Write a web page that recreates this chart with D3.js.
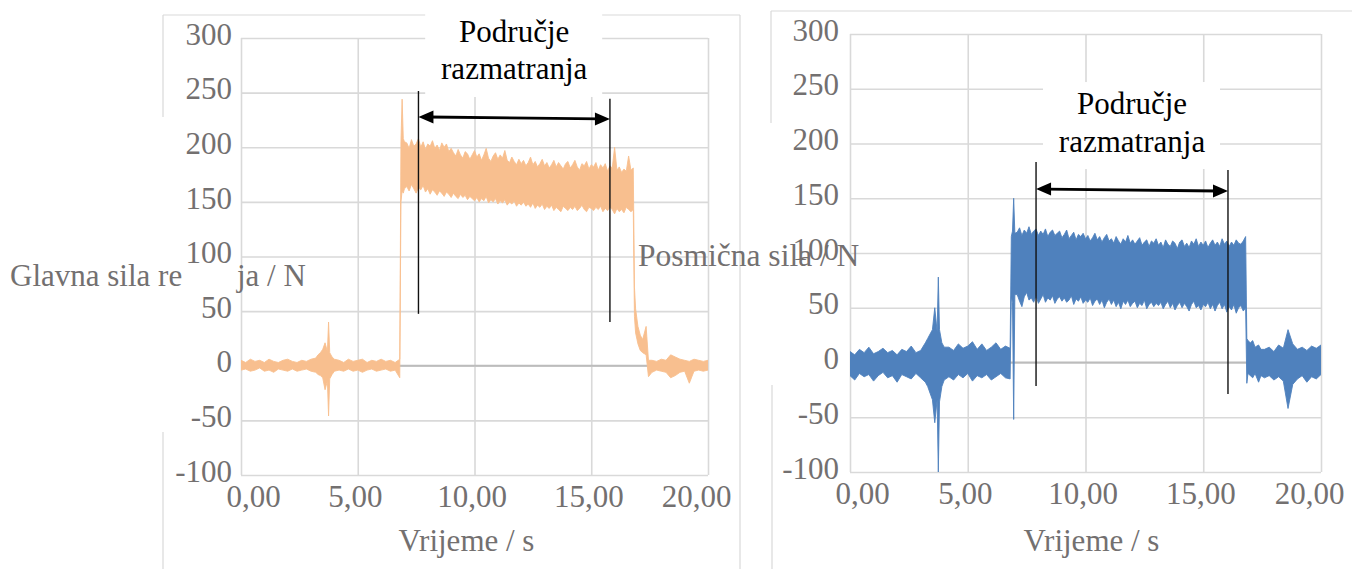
<!DOCTYPE html>
<html>
<head>
<meta charset="utf-8">
<script src="https://cdn.jsdelivr.net/npm/d3@7"></script>
<style>
body { margin: 0; background: #fff; }
text { font-family: "Liberation Serif", "Times New Roman", serif; }
</style>
</head>
<body>
<script>
var width = 1352
var height = 569

// sample instants, s (denser where the signal is cut)
var time = [
  0, 0.2, 0.4, 0.6, 0.8, 1, 1.2, 1.4, 1.6, 1.8, 2, 2.2, 2.4, 2.6, 2.8, 3,
  3.2, 3.3, 3.4, 3.5, 3.6, 3.7, 3.75, 3.8, 3.9, 4,
  4.2, 4.4, 4.6, 4.8, 5, 5.2, 5.4, 5.6, 5.8, 6, 6.2, 6.4, 6.6, 6.8,
  6.85, 6.9, 6.95, 7,
  7.1, 7.2, 7.3, 7.4, 7.5, 7.6, 7.7, 7.8, 7.9, 8,
  8.1, 8.2, 8.3, 8.4, 8.5, 8.6, 8.7, 8.8, 8.9, 9,
  9.1, 9.2, 9.3, 9.4, 9.5, 9.6, 9.7, 9.8, 9.9, 10,
  10.1, 10.2, 10.3, 10.4, 10.5, 10.6, 10.7, 10.8, 10.9, 11,
  11.1, 11.2, 11.3, 11.4, 11.5, 11.6, 11.7, 11.8, 11.9, 12,
  12.1, 12.2, 12.3, 12.4, 12.5, 12.6, 12.7, 12.8, 12.9, 13,
  13.1, 13.2, 13.3, 13.4, 13.5, 13.6, 13.7, 13.8, 13.9, 14,
  14.1, 14.2, 14.3, 14.4, 14.5, 14.6, 14.7, 14.8, 14.9, 15,
  15.1, 15.2, 15.3, 15.4, 15.5, 15.6, 15.7, 15.8, 15.9, 16,
  16.1, 16.2, 16.3, 16.4, 16.5, 16.6, 16.7, 16.8,
  16.85, 16.9, 17, 17.1, 17.2, 17.35, 17.45,
  17.6, 17.8, 18, 18.2, 18.4, 18.6, 18.8, 19, 19.2, 19.4, 19.6, 19.8, 20
]

// Glavna sila rezanja, upper / lower edge of the noisy signal, N
var glavnaHi = [
  5, 3, 6, 4, 5, 3, 6, 4, 3, 5, 6, 4, 3, 5, 4, 6,
  7, 10, 12, 15, 21, 13, 40, 12, 8, 6,
  5, 3, 6, 4, 5, 6, 3, 5, 4, 6, 4, 5, 3, 6,
  205, 244, 208, 205,
  204, 199, 207, 201, 203, 208, 200, 205, 198, 203,
  201, 206, 199, 202, 197, 204, 200, 203, 196, 199,
  195, 192, 198, 193, 190, 196, 194, 189, 193, 197,
  191, 194, 188, 193, 199, 190, 187, 192, 195, 189,
  193, 190, 197, 188, 186, 191, 187, 184, 189, 185,
  188, 183, 186, 191, 184, 187, 182, 185, 189, 183,
  186, 181, 184, 188, 182, 186, 183, 180, 185, 187,
  181, 184, 188, 182, 179, 185, 183, 187, 180, 184,
  182, 186, 179, 184, 181, 185, 178, 183, 181, 200,
  179, 182, 177, 180, 178, 192, 179, 181,
  72, 52, 36, 28, 24, 36, 5,
  5, 4, 6, 5, 10, 8, 6, 5, 4, 6, 5, 4, 5
]
var glavnaLo = [
  -4, -3, -5, -4, -2, -5, -4, -6, -3, -4, -5, -3, -5, -4, -3, -5,
  -6, -8, -9, -11, -22, -14, -46, -12, -8, -5,
  -4, -5, -3, -5, -4, -6, -4, -3, -5, -4, -3, -5, -4, -11,
  150, 160, 158, 162,
  164, 160, 166, 162, 158, 163, 161, 165, 159, 162,
  157, 161, 159, 156, 160, 158, 155, 159, 157, 154,
  158, 155, 153, 157, 154, 156, 152, 155, 153, 151,
  154, 150, 153, 151, 155, 149, 152, 150, 153, 148,
  151, 149, 152, 147, 150, 148, 151, 146, 149, 147,
  150, 146, 148, 145, 149, 144, 147, 145, 148, 143,
  146, 144, 147, 142, 145, 143, 141, 146, 144, 142,
  145, 143, 146, 142, 144, 147, 143, 141, 145, 144,
  142, 145, 143, 146, 141, 144, 142, 145, 143, 139,
  144, 141, 143, 140, 145, 143, 141, 143,
  45, 30, 20, 14, 12, 10, -10,
  -6, -4, -5, -6, -11, -9, -6, -5, -16, -5, -4, -5, -4
]

// Posmična sila, upper / lower edge, N
var posmicnaHi = [
  10, 7, 12, 9, 14, 8, 10, 13, 9, 11, 7, 12, 10, 15, 9, 11,
  18, 22, 26, 30, 50, 28, 78, 30, 18, 14,
  14, 11, 17, 13, 15, 19, 12, 17, 11, 14, 18, 12, 15, 13,
  115, 120, 150, 118,
  119, 123, 116, 121, 118, 124, 117, 120, 122, 116,
  120, 117, 122, 115, 119, 121, 116, 118, 120, 114,
  117, 121, 113, 116, 119, 112, 117, 115, 118, 113,
  116, 111, 114, 118, 112, 115, 110, 114, 117, 111,
  113, 109, 115, 111, 108, 113, 110, 116, 109, 112,
  108, 111, 114, 107, 110, 112, 106, 111, 109, 113,
  107, 110, 105, 112, 108, 106, 111, 109, 104, 110,
  112, 106, 109, 105, 111, 108, 113, 106, 110, 107,
  111, 105, 109, 112, 107, 110, 106, 113, 108, 111,
  106, 110, 107, 112, 109, 108, 111, 115,
  22, 20, 18, 20, 14, 16, 12,
  12, 14, 10, 16, 13, 30, 17, 12, 14, 11, 15, 13, 16
]
var posmicnaLo = [
  -12, -16, -10, -13, -11, -17, -12, -9, -14, -12, -18, -11, -13, -15, -10, -14,
  -18, -22, -28, -34, -55, -34, -100, -36, -22, -16,
  -13, -16, -11, -14, -10, -17, -12, -14, -11, -16, -13, -10, -14, -15,
  60, 55, -52, 62,
  62, 56, 51, 60, 64, 57, 59, 55, 61, 54,
  58, 62, 55, 59, 57, 61, 54, 58, 60, 56,
  59, 55, 57, 61, 53, 58, 56, 60, 54, 57,
  55, 59, 52, 56, 58, 53, 57, 50, 55, 58,
  53, 57, 51, 55, 49, 56, 53, 57, 51, 54,
  56, 50, 54, 52, 57, 49, 53, 55, 51, 54,
  52, 55, 49, 53, 56, 50, 54, 48, 52, 55,
  50, 54, 51, 47, 53, 56, 50, 52, 48, 53,
  51, 55, 49, 53, 47, 52, 55, 49, 53, 46,
  51, 48, 53, 45, 50, 52, 47, 50,
  -19, -10, -12, -14, -10, -18, -12,
  -14, -12, -16, -13, -17, -42, -20, -15, -12, -18, -13, -15, -11
]

var xTicks = [0, 5, 10, 15, 20]
var yTicks = [-100, -50, 0, 50, 100, 150, 200, 250, 300]
var xTitle = "Vrijeme / s"
var regionText = ["Područje", "razmatranja"]
// the left y title is partly covered in the source figure: visible pieces only
var glavnaTitle = ["Glavna sila re", "ja / N"]
var posmicnaTitle = "Posmična sila / N"

// region of interest: start/end time (s), bracket line ends and arrow height (N)
var regionGlavna = [7.6, 15.8]
var regionGlavnaLeft = [251.5, 47.5]
var regionGlavnaRight = [244.5, 40]
var regionGlavnaArrow = [227.7, 225.9]
var regionPosmicna = [7.9, 16.05]
var regionPosmicnaLeft = [183, -21.5]
var regionPosmicnaRight = [175.8, -28.8]
var regionPosmicnaArrow = [158.4, 156.6]

var locale = d3.formatLocale({decimal: ",", thousands: ".", grouping: [3], currency: ["", ""], minus: "-"})
var fmtX = locale.format(".2f")
var fmtY = locale.format("d")

var labelColor = "#737070"
var gridColor = "#d9d9d9"

var svg = d3.select("body").append("svg")
  .attr("width", width)
  .attr("height", height)

// chart frames (partly hidden in the original)
var frame = svg.append("g").attr("stroke", gridColor).attr("stroke-width", 1.2)
frame.append("line").attr("x1", 163).attr("x2", 740).attr("y1", 15).attr("y2", 15)
frame.append("line").attr("x1", 163).attr("x2", 163).attr("y1", 15).attr("y2", 117)
frame.append("line").attr("x1", 163).attr("x2", 163).attr("y1", 432).attr("y2", height)
frame.append("line").attr("x1", 740).attr("x2", 740).attr("y1", 15).attr("y2", height)
frame.append("line").attr("x1", 771).attr("x2", width).attr("y1", 11).attr("y2", 11)
frame.append("line").attr("x1", 771).attr("x2", 771).attr("y1", 11).attr("y2", 123)
frame.append("line").attr("x1", 772).attr("x2", 772).attr("y1", 385).attr("y2", height)

var xL = d3.scaleLinear().domain([0, 20]).range([241, 708])
var yL = d3.scaleLinear().domain([-100, 300]).range([475, 38])
var xR = d3.scaleLinear().domain([0, 20]).range([850, 1321])
var yR = d3.scaleLinear().domain([-100, 300]).range([472, 34])

const drawChart = (id, x, y, hi, lo, color, region, leftEnd, rightEnd, arrow) => {
  var g = svg.append("g")
  var w = x.range()[1] - x.range()[0]
  var h = y.range()[0] - y.range()[1]

  // gridlines
  g.append("g")
    .attr("transform", "translate(" + x.range()[0] + ",0)")
    .call(d3.axisLeft(y).tickValues(yTicks).tickSize(-w).tickFormat(""))
  g.append("g")
    .attr("transform", "translate(0," + y.range()[0] + ")")
    .call(d3.axisBottom(x).tickValues(xTicks).tickSize(-h).tickFormat(""))
  g.selectAll(".domain").remove()
  g.selectAll(".tick line").attr("stroke", gridColor).attr("stroke-width", 1.6)

  g.append("line")
    .attr("x1", x.range()[0]).attr("x2", x.range()[1])
    .attr("y1", y(0)).attr("y2", y(0))
    .attr("stroke", "#bcbcbc").attr("stroke-width", 2)

  // white label box over the grid
  var ax = x((region[0] + region[1]) / 2)
  var ay = y((arrow[0] + arrow[1]) / 2)
  g.append("rect")
    .attr("x", ax - 89).attr("width", 177)
    .attr("y", ay - 108).attr("height", 87)
    .attr("fill", "#fff")

  svg.append("clipPath").attr("id", id)
    .append("rect")
    .attr("x", x.range()[0]).attr("y", y.range()[1])
    .attr("width", w).attr("height", h)

  var area = d3.area()
    .x((d, i) => x(time[i]))
    .y0((d, i) => y(lo[i]))
    .y1((d, i) => y(hi[i]))

  g.append("path")
    .datum(hi)
    .attr("clip-path", "url(#" + id + ")")
    .attr("d", area)
    .attr("fill", color)
    .attr("stroke", color)
    .attr("stroke-width", 0.9)
    .attr("stroke-linejoin", "miter")

  // region of interest bracket
  g.append("line")
    .attr("x1", x(region[0])).attr("x2", x(region[0]))
    .attr("y1", y(leftEnd[0])).attr("y2", y(leftEnd[1]))
    .attr("stroke", "#111").attr("stroke-width", 1.4)
  g.append("line")
    .attr("x1", x(region[1])).attr("x2", x(region[1]))
    .attr("y1", y(rightEnd[0])).attr("y2", y(rightEnd[1]))
    .attr("stroke", "#111").attr("stroke-width", 1.4)

  var a0 = [x(region[0]), y(arrow[0])]
  var a1 = [x(region[1]), y(arrow[1])]
  g.append("line")
    .attr("x1", a0[0] + 10).attr("y1", a0[1])
    .attr("x2", a1[0] - 10).attr("y2", a1[1])
    .attr("stroke", "#000").attr("stroke-width", 2.8)
  g.append("path")
    .attr("d", "M" + a0[0] + "," + a0[1] + "l15,-6.5v13z")
    .attr("fill", "#000")
  g.append("path")
    .attr("d", "M" + a1[0] + "," + a1[1] + "l-15,-6.5v13z")
    .attr("fill", "#000")

  g.selectAll(".label")
    .data(regionText)
    .enter()
    .append("text")
    .attr("x", ax)
    .attr("y", (d, i) => ay - 76 + i * 37.5)
    .attr("text-anchor", "middle")
    .style("font-size", "31px")
    .style("fill", "#000")
    .text(d => d)
}

const drawAxes = (x, y, padLeft, titleX) => {
  var g = svg.append("g")
  var axl = g.append("g")
    .attr("transform", "translate(" + x.range()[0] + ",0)")
    .call(d3.axisLeft(y).tickValues(yTicks).tickSize(0).tickPadding(padLeft).tickFormat(fmtY))
  var axb = g.append("g")
    .attr("transform", "translate(0," + y.range()[0] + ")")
    .call(d3.axisBottom(x).tickValues(xTicks).tickSize(0).tickPadding(10).tickFormat(fmtX))
  g.selectAll(".domain").remove()
  g.selectAll("text")
    .style("font-size", "31px")
    .style("font-family", "'Liberation Serif', 'Times New Roman', serif")
    .attr("fill", labelColor)
  axl.selectAll("text").attr("dy", "0.2em")
  axb.selectAll("text")
    .attr("dx", d => d === 0 ? 12 : d === 20 ? -12 : -3)

  g.append("text")
    .attr("x", titleX)
    .attr("y", 551)
    .attr("text-anchor", "middle")
    .style("font-size", "31px")
    .style("fill", labelColor)
    .text(xTitle)
}

drawChart("clipL", xL, yL, glavnaHi, glavnaLo, "#f8bf8f", regionGlavna,
  regionGlavnaLeft, regionGlavnaRight, regionGlavnaArrow)
drawChart("clipR", xR, yR, posmicnaHi, posmicnaLo, "#4f81bd", regionPosmicna,
  regionPosmicnaLeft, regionPosmicnaRight, regionPosmicnaArrow)

// y-axis titles, laid out flat as in the source figure
svg.selectAll(".ytitle")
  .data(glavnaTitle)
  .enter()
  .append("text")
  .attr("x", (d, i) => i === 0 ? 10 : 237)
  .attr("y", 286)
  .style("font-size", "31px")
  .style("fill", labelColor)
  .text(d => d)

drawAxes(xL, yL, 9, xL(10) - 8)
drawAxes(xR, yR, 11, xR(10) + 6)

svg.append("text")
  .attr("x", 638)
  .attr("y", 266)
  .style("font-size", "31.5px")
  .style("fill", labelColor)
  .text(posmicnaTitle)
</script>
</body>
</html>
